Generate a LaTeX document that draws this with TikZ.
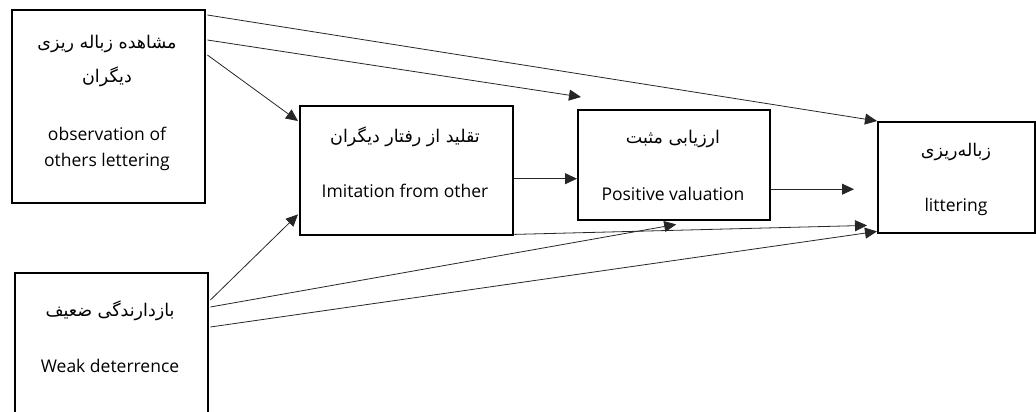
\documentclass[tikz,border=0pt]{standalone}
\usepackage{fontspec}
\setmainfont{Open Sans}
\newfontfamily\farsi[Script=Arabic]{DejaVu Sans}
\TeXXeTstate=1
\usepackage{tikz}
\usetikzlibrary{arrows.meta,positioning,calc}

\tikzset{
  box/.style={draw,line width=2.4pt,rectangle,anchor=north west,inner sep=0pt},
  lat/.style={font=\fontsize{17.5}{20}\selectfont},
  fa/.style={font=\farsi\fontsize{17.5}{22}\selectfont},
  arr/.style={draw=black!85,line width=0.8pt,-{Triangle[length=12pt,width=11pt]}},
}

\begin{document}
\begin{tikzpicture}[x=1pt,y=-1pt]
      \useasboundingbox (0,0) rectangle (1036,412);
      \node[box,minimum width=193pt,minimum height=193pt](obs) at (11,9){};
      \node[box,minimum width=193pt,minimum height=160pt](weak) at (14,272){};
      \node[box,minimum width=213pt,minimum height=129pt](imit) at (299,105){};
      \node[box,minimum width=192pt,minimum height=110pt](pos) at (577,109){};
      \node[box,minimum width=157pt,minimum height=111pt](litter) at (877,121){};

      % texts
      \node[fa] at (107,44)(obsfa1){\beginR مشاهده زباله ریزی\endR};
      \node[fa] at (107,77)(obsfa2){\beginR دیگران\endR};
      \node[lat] at (107,134)(obsen1){observation of};
      \node[lat] at (107,162)(obsen2){others lettering};
      \node[fa] at (405,137)(imitfa){\beginR تقلید از رفتار دیگران\endR};
      \node[lat] at (405,191)(imiten){Imitation from other};
      \node[fa] at (673,139)(posfa){\beginR ارزیابی مثبت\endR};
      \node[lat] at (673,194)(posen){Positive valuation};
      \node[fa] at (956,152)(litterfa){\beginR زباله‌ریزی\endR};
      \node[lat] at (956,207)(litteren){littering};
      \node[fa] at (110,311)(weakfa){\beginR بازدارندگی ضعیف\endR};
      \node[lat] at (110,366)(weaken){Weak deterrence};

      \coordinate (posin) at ($(pos.north west)+(4,-12)$);
      \coordinate (litin) at ($(litter.west)+(-23,11.5)$);

      \draw[arr] ($(obs.north east)+(1,6)$) -- (litter.north west);
      \draw[arr] ($(obs.north east)+(1,31)$) -- (posin);
      \draw[arr] ($(obs.north east)+(1,46)$) -- ($(imit.north west)+(-1,16)$);
      \draw[arr] ($(imit.east)+(0,8)$) -- ($(pos.west)+(0,13.5)$);
      \draw[arr] ($(pos.east)+(0,24)$) -- (litin);
      \draw[arr] ($(imit.south east)+(0,-2)$) -- ($(litter.south west)+(-10,-9)$);
      \draw[arr] ($(weak.north east)+(1,28)$) -- ($(imit.south west)+(-1,-22)$);
      \draw[arr] ($(weak.north east)+(1,35)$) -- ($(pos.south)+(2,3)$);
      \draw[arr] ($(weak.north east)+(1,55)$) -- ($(litter.south west)+(0,-3)$);
    \end{tikzpicture}
\end{document}
